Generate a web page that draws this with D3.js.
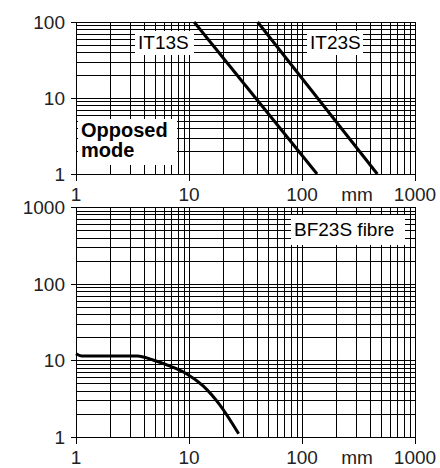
<!DOCTYPE html>
<html>
<head>
<meta charset="UTF-8">
<style>
  body { margin: 0; background: #fff; }
  svg { display: block; font-family: "Liberation Sans", Arial, sans-serif; }
  .lbl { font-size: 19px; fill: #222; }
</style>
</head>
<body>
<svg></svg>
<script src="https://cdn.jsdelivr.net/npm/d3@7"></script>
<script>
let width = 440, height = 468;

// data
const xTickLabels = [1, 10, 100, 1000];
const topTickLabels = [1, 10, 100];
const bottomTickLabels = [1, 10, 100, 1000];

const it13sX = [11.1, 136];
const it13sY = [100, 1];
const it23sX = [40.5, 464];
const it23sY = [100, 1];

const bf23sX = [1, 1.12, 3.5, 4.8, 6.8, 9.5, 13.4, 18.8, 27.5];
const bf23sY = [12.2, 11.4, 11.4, 10.1, 8.4, 6.7, 4.6, 2.6, 1.1];

let svg = d3.select("svg").attr("width", width).attr("height", height);

let x = d3.scaleLog().domain([1, 1000]).range([76, 415]);
let yTop = d3.scaleLog().domain([1, 100]).range([174, 22]);
let yBot = d3.scaleLog().domain([1, 1000]).range([437, 207]);

function drawPanel(y, yLabels) {
  let g = svg.append("g");
  let [y0, y1] = y.range();
  let px = v => Math.round(v) + 0.5;

  // vertical grid
  g.selectAll(".vg").data(x.ticks()).enter().append("line")
    .attr("x1", d => px(x(d))).attr("x2", d => px(x(d)))
    .attr("y1", y1).attr("y2", y0)
    .attr("stroke", "#000").attr("stroke-width", 1)
    .attr("shape-rendering", "crispEdges");

  // horizontal grid
  g.selectAll(".hg").data(y.ticks()).enter().append("line")
    .attr("x1", x.range()[0]).attr("x2", x.range()[1] + 1)
    .attr("y1", d => px(y(d))).attr("y2", d => px(y(d)))
    .attr("stroke", "#000").attr("stroke-width", 1)
    .attr("shape-rendering", "crispEdges");

  // major ticks
  g.selectAll(".xt").data(xTickLabels).enter().append("line")
    .attr("x1", d => px(x(d))).attr("x2", d => px(x(d)))
    .attr("y1", y0).attr("y2", y0 + 7)
    .attr("stroke", "#000").attr("shape-rendering", "crispEdges");
  g.selectAll(".yt").data(yLabels).enter().append("line")
    .attr("x1", x.range()[0] - 5).attr("x2", x.range()[0])
    .attr("y1", d => px(y(d))).attr("y2", d => px(y(d)))
    .attr("stroke", "#000").attr("shape-rendering", "crispEdges");

  // y labels
  g.selectAll(".yl").data(yLabels).enter().append("text")
    .attr("class", "lbl")
    .attr("x", 65).attr("y", d => y(d) + 7)
    .attr("text-anchor", "end")
    .text(d => d);

  // x labels
  g.selectAll(".xl").data(xTickLabels).enter().append("text")
    .attr("class", "lbl")
    .attr("x", d => x(d)).attr("y", y0 + 27)
    .attr("text-anchor", "middle")
    .text(d => d);
  g.append("text").attr("class", "lbl")
    .attr("x", 357).attr("y", y0 + 27)
    .attr("text-anchor", "middle").text("mm");
  return g;
}

function tag(g, bx, by, bw, bh, lines, bold, base) {
  g.append("rect").attr("x", bx).attr("y", by).attr("width", bw).attr("height", bh)
    .attr("fill", "#fff");
  lines.forEach((t, i) => {
    g.append("text").attr("class", "lbl")
      .attr("x", bx + 3).attr("y", by + (base || 18) + i * 20)
      .style("font-weight", bold ? "bold" : "normal")
      .style("font-size", bold ? "20px" : "19px")
      .style("fill", "#000")
      .text(t);
  });
}

let line = (y, curve) => d3.line().x(d => x(d[0])).y(d => y(d[1])).curve(curve);

// top panel
let gTop = drawPanel(yTop, topTickLabels);
tag(gTop, 135, 31, 59, 24, ["IT13S"]);
tag(gTop, 307, 31, 56, 24, ["IT23S"]);
tag(gTop, 78, 119, 99, 46, ["Opposed", "mode"], true);

gTop.append("path")
  .datum(d3.zip(it13sX, it13sY))
  .attr("d", line(yTop, d3.curveLinear))
  .attr("fill", "none").attr("stroke", "#000").attr("stroke-width", 3);
gTop.append("path")
  .datum(d3.zip(it23sX, it23sY))
  .attr("d", line(yTop, d3.curveLinear))
  .attr("fill", "none").attr("stroke", "#000").attr("stroke-width", 3);

// bottom panel
let gBot = drawPanel(yBot, bottomTickLabels);
tag(gBot, 291, 215, 114, 30, ["BF23S fibre"], false, 21);

gBot.append("path")
  .datum(d3.zip(bf23sX, bf23sY))
  .attr("d", line(yBot, d3.curveMonotoneX))
  .attr("fill", "none").attr("stroke", "#000").attr("stroke-width", 3);
</script>
</body>
</html>
